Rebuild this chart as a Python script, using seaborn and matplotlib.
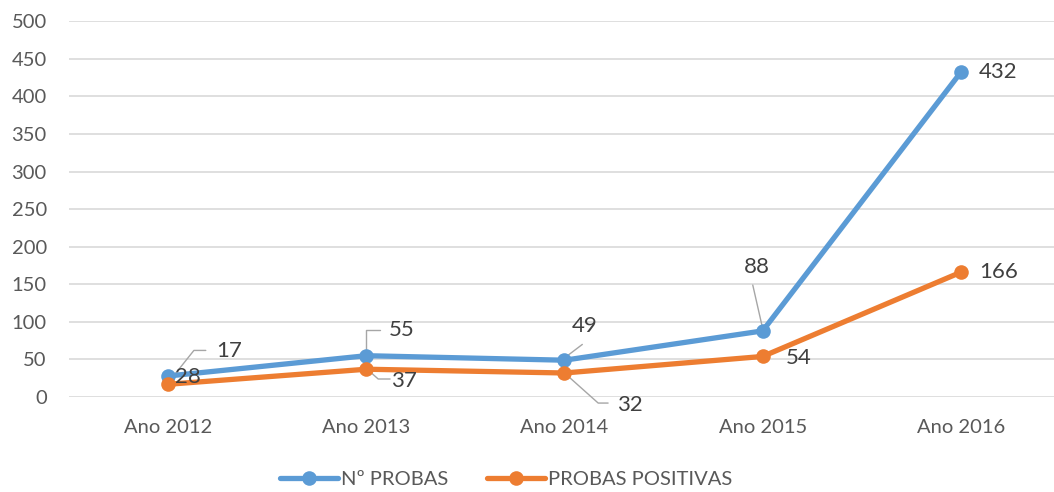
import pandas as pd
import seaborn as sns
import matplotlib.pyplot as plt

anos = ["Ano 2012", "Ano 2013", "Ano 2014", "Ano 2015", "Ano 2016"]
n_probas = [28, 55, 49, 88, 432]
probas_positivas = [17, 37, 32, 54, 166]

df = pd.DataFrame({
    "ano": anos * 2,
    "valor": n_probas + probas_positivas,
    "serie": ["Nº PROBAS"] * 5 + ["PROBAS POSITIVAS"] * 5,
})

sns.set_style("white")
plt.rcParams["font.family"] = ["Lato", "DejaVu Sans"]

fig = plt.figure(figsize=(10.54, 4.92), dpi=100)
ax = fig.add_axes([0.0655, 0.193, 0.9345, 0.764])

palette = {"Nº PROBAS": "#5B9BD5", "PROBAS POSITIVAS": "#ED7D31"}
sns.lineplot(data=df, x="ano", y="valor", hue="serie", palette=palette,
             marker="o", markersize=10.5, markeredgewidth=0, linewidth=3.8,
             ax=ax, legend=True, zorder=3)

ax.set_ylim(0, 500)
ax.set_yticks(range(0, 501, 50))
ax.set_xlim(-0.5, 4.47)
ax.grid(axis="y", color="#D9D9D9", linewidth=1.2)
ax.set_axisbelow(True)
for s in ax.spines.values():
    s.set_visible(False)
ax.set_xlabel("")
ax.set_ylabel("")
ax.tick_params(axis="both", length=0, labelsize=14.5, labelcolor="#595959")
ax.tick_params(axis="y", pad=16)
ax.tick_params(axis="x", pad=16)

# data labels (Excel style, some with leader lines)
lab = dict(fontsize=16, color="#404040", va="center", ha="center")
lead = dict(color="#A6A6A6", linewidth=1, zorder=2)

def lbl(text, txt_xy, path=None):
    ax.text(txt_xy[0], txt_xy[1], text, **lab)
    if path:
        xs, ys = zip(*path)
        ax.plot(xs, ys, **lead)

# 2012
lbl(str(probas_positivas[0]), (0.31, 61), [(0.0, 19), (0.13, 62), (0.19, 62)])
lbl(str(n_probas[0]), (0.10, 26))
# 2013
lbl(str(n_probas[1]), (1.18, 89), [(1.0, 58), (1.0, 89), (1.07, 89)])
lbl(str(probas_positivas[1]), (1.19, 22), [(1.0, 38), (1.06, 24), (1.12, 24)])
# 2014
lbl(str(n_probas[2]), (2.10, 94), [(2.0, 52), (2.09, 70)])
lbl(str(probas_positivas[2]), (2.33, -11), [(2.0, 32), (2.17, -8), (2.22, -8)])
# 2015
lbl(str(n_probas[3]), (2.97, 173), [(2.95, 149), (3.0, 91)])
lbl(str(probas_positivas[3]), (3.18, 52))
# 2016
lbl(str(n_probas[4]), (4.19, 432))
lbl(str(probas_positivas[4]), (4.19, 166))

for t in ax.texts:
    t.set_clip_on(False)
for ln in ax.lines:
    ln.set_clip_on(False)

handles, labels = ax.get_legend_handles_labels()
ax.legend(handles, labels, loc="center", bbox_to_anchor=(0.48, 0.026),
          bbox_transform=fig.transFigure, ncol=2, frameon=False,
          fontsize=14.5, handlelength=2.9, columnspacing=1.9, handletextpad=0.15,
          labelcolor="#595959")

plt.savefig("out.png", dpi=100)
